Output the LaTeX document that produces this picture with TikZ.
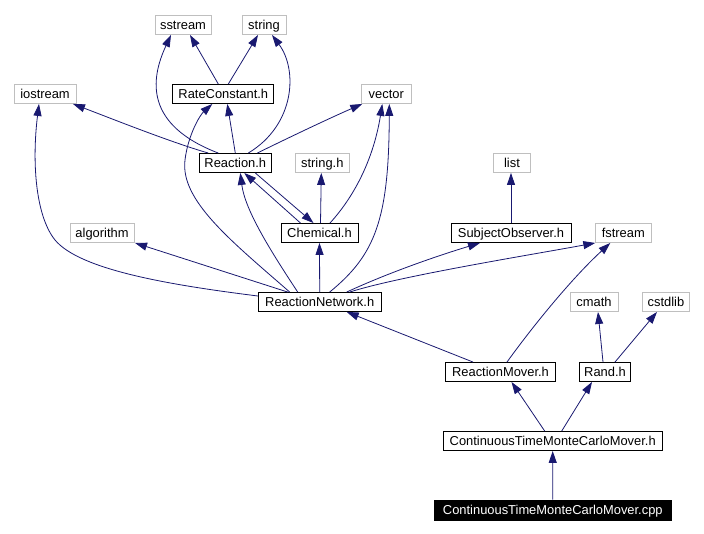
\documentclass[tikz,border=0pt]{standalone}
\usepackage{fontspec}
\setmainfont{Liberation Sans}
\usetikzlibrary{arrows.meta}
\definecolor{edgecol}{HTML}{191970}
\definecolor{extgray}{HTML}{BFBFBF}
\tikzset{
  boxbase/.style={line width=0.9pt, inner sep=0pt, text height=9.2pt, text depth=0pt, font=\fontsize{12.9}{15}\selectfont},
  hdr/.style={boxbase, draw=black, minimum height=19pt, text=black},
  ext/.style={boxbase, draw=extgray, minimum height=19pt, text=black},
  src/.style={boxbase, draw=black, fill=black, minimum height=20pt, text=white},
  dep/.style={draw=edgecol, line width=0.8pt, -{Triangle[length=12pt,width=8pt]}},
}
\begin{document}
\begin{tikzpicture}[x=1pt,y=-1pt]
\useasboundingbox (0,0) rectangle (704,534);
% nodes
\node[ext, minimum width=56pt]  (ss)  at (183,25)    {sstream};
\node[ext, minimum width=44pt]  (st)  at (264,25)    {string};
\node[ext, minimum width=62pt]  (io)  at (45,94)     {iostream};
\node[hdr, minimum width=101pt] (rc)  at (223.3,94)  {RateConstant.h};
\node[ext, minimum width=50.7pt](vec) at (386.3,94)  {vector};
\node[hdr, minimum width=72.7pt](re)  at (235.3,163) {Reaction.h};
\node[ext, minimum width=54.7pt](sh)  at (322.3,163) {string.h};
\node[ext, minimum width=37.7pt](li)  at (512,163)   {list};
\node[ext, minimum width=64pt]  (al)  at (102,233)   {algorithm};
\node[hdr, minimum width=77pt]  (chm) at (319.5,233) {Chemical.h};
\node[hdr, minimum width=120pt] (so)  at (511,233)   {SubjectObserver.h};
\node[ext, minimum width=55.3pt](fs)  at (623.3,233) {fstream};
\node[hdr, minimum width=122.7pt](rn) at (319.7,302) {ReactionNetwork.h};
\node[ext, minimum width=48pt]  (cm)  at (594,302)   {cmath};
\node[ext, minimum width=47.7pt](cs)  at (666,302)   {cstdlib};
\node[hdr, minimum width=109.7pt](rm) at (500.5,372) {ReactionMover.h};
\node[hdr, minimum width=51pt]  (ra)  at (605,372)   {Rand.h};
\node[hdr, minimum width=219.3pt](mh) at (552.7,441) {ContinuousTimeMonteCarloMover.h};
\node[src, minimum width=237.7pt](mc) at (552.8,510) {ContinuousTimeMonteCarloMover.cpp};
% edges
\draw[dep] ([xshift=-5pt]rc.north) -- ([xshift=7pt]ss.south);
\draw[dep] ([xshift=5pt]rc.north) -- ([xshift=-6pt]st.south);
\draw[dep] ([xshift=-17pt]re.north) .. controls (145,125) and (150,80) .. ([xshift=-12pt]ss.south);
\draw[dep] ([xshift=13pt]re.north) .. controls (295,125) and (298,70) .. ([xshift=8pt]st.south);
\draw[dep] ([xshift=-27pt]re.north) .. controls (170,142) and (110,118) .. ([xshift=28pt]io.south);
\draw[dep] (re.north) -- ([xshift=4pt]rc.south);
\draw[dep] ([xshift=22pt]re.north) .. controls (290,137) and (330,118) .. ([xshift=-24pt]vec.south);
\draw[dep] ([yshift=6pt]rn.west) .. controls (170,285) and (80,270) .. (55,240) .. controls (35,215) and (32,160) .. ([xshift=-6pt]io.south);
\draw[dep] ([xshift=-30pt]rn.north) .. controls (230,240) and (180,200) .. (185,160) .. controls (188,135) and (200,115) .. ([xshift=-11pt]rc.south);
\draw[dep] ([xshift=-22pt]rn.north) .. controls (270,250) and (245,210) .. ([xshift=5pt]re.south);
\draw[dep] ([xshift=-19pt]chm.north) -- ([xshift=9pt]re.south);
\draw[dep] ([xshift=20pt]re.south) -- ([xshift=-6pt]chm.north);
\draw[dep] ([xshift=1pt]chm.north) -- ([xshift=-1pt]sh.south);
\draw[dep] ([xshift=10.5pt]chm.north) .. controls (360,190) and (375,150) .. ([xshift=-4pt]vec.south);
\draw[dep] ([xshift=10pt]rn.north) .. controls (375,255) and (389,220) .. ([xshift=3pt]vec.south);
\draw[dep] ([xshift=-32pt]rn.north) -- ([xshift=33pt]al.south);
\draw[dep] (rn.north) -- (chm.south);
\draw[dep] ([xshift=27pt]rn.north) .. controls (390,272) and (440,255) .. ([xshift=-31pt]so.south);
\draw[dep] ([xshift=30pt]rn.north) .. controls (400,276) and (530,255) .. ([xshift=-28pt]fs.south);
\draw[dep] ([xshift=-27.5pt]rm.north) -- ([xshift=27pt]rn.south);
\draw[dep] ([xshift=6.5pt]rm.north) .. controls (530,330) and (570,280) .. ([xshift=-13pt]fs.south);
\draw[dep] (so.north) -- (so.north |- li.south);
\draw[dep] ([xshift=-2pt]ra.north) -- ([xshift=4pt]cm.south);
\draw[dep] ([xshift=10pt]ra.north) -- ([xshift=-9pt]cs.south);
\draw[dep] ([xshift=-8pt]mh.north) -- ([xshift=11pt]rm.south);
\draw[dep] ([xshift=9pt]mh.north) -- ([xshift=-13pt]ra.south);
\draw[dep] (mc.north) -- (mh.south);
\end{tikzpicture}
\end{document}
